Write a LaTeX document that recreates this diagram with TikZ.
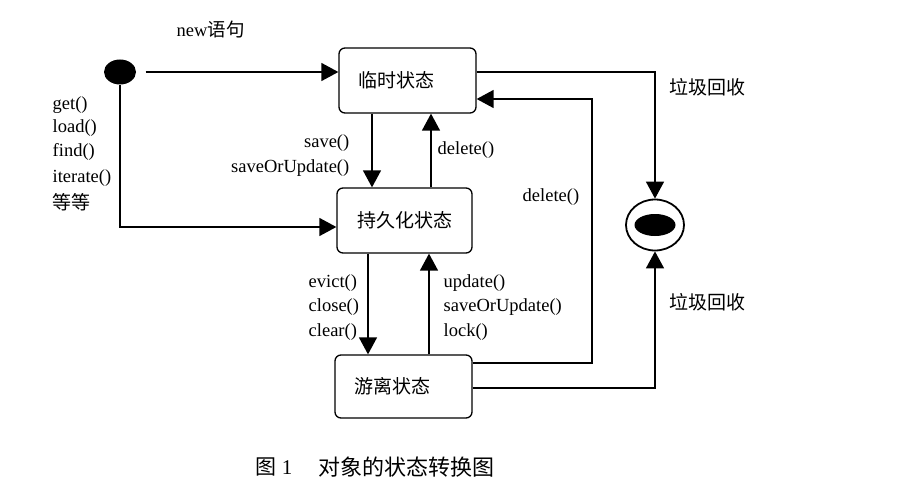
\documentclass[tikz,border=0pt]{standalone}
\usepackage{fontspec}
\setmainfont{Liberation Serif}
\newfontfamily\cjk{Noto Sans CJK SC}
\usetikzlibrary{arrows.meta,shapes.geometric}
\begin{document}
\begin{tikzpicture}[x=1pt,y=-1pt,
  line width=1.4pt,
  arr/.style={-{Triangle[length=17pt,width=18pt]}},
  state/.style={draw, rounded corners=6pt, line width=1.3pt, inner sep=0pt,
    font=\cjk\fontsize{19}{19}\selectfont},
  lbl/.style={font=\fontsize{18.5}{18.5}\selectfont, inner sep=0pt},
  clbl/.style={font=\cjk\fontsize{19}{19}\selectfont, inner sep=0pt}]
\useasboundingbox[fill=white] (0,0) rectangle (911,495);

% states
\node[state, minimum width=137pt, minimum height=65pt] (b1) at (407.5,80.5) {临时状态\hspace*{22pt}};
\node[state, minimum width=135pt, minimum height=65pt] (b2) at (404.5,220.5) {持久化状态};
\node[state, minimum width=137pt, minimum height=63pt] (b3) at (403.5,386.5) {游离状态\hspace*{22pt}};

% start and end
\node[fill, ellipse, minimum width=32pt, minimum height=25pt, inner sep=0pt] (s) at (120,72) {};
\node[draw, ellipse, line width=1.8pt, minimum width=58pt, minimum height=51pt, inner sep=0pt] (e) at (655,225) {};
\node[fill, ellipse, minimum width=41pt, minimum height=22pt, inner sep=0pt] (ei) at (e.center) {};

% helper x positions
\coordinate (x1) at (372,0);
\coordinate (x2) at (431,0);
\coordinate (x3) at (368,0);
\coordinate (x4) at (429,0);
\coordinate (d1) at (592,99);

% connectors
\draw[arr] ([xshift=9pt]s.east) -- (b1.west |- s.east);
\draw[arr] (s.south) |- ([yshift=-6.5pt]b2.west);
\draw[arr] (b1.south -| x1) -- (b2.north -| x1);
\draw[arr] (b2.north -| x2) -- (b1.south -| x2);
\draw[arr] (b2.south -| x3) -- (b3.north -| x3);
\draw[arr] (b3.north -| x4) -- (b2.south -| x4);
\draw[arr] ([yshift=8.5pt]b1.east) -| (e.north);
\draw[arr] ([yshift=23.5pt]b3.east) -| (d1) |- ([yshift=-18.5pt]b1.east);
\draw[arr] ([yshift=-1.5pt]b3.east) -| (e.south);

% labels
\node[lbl, anchor=west] (lnew) at (176,30) {new{\cjk 语句}};
\node[lbl, anchor=west] (lget) at (52,105) {get()};
\node[lbl, anchor=west] (lload) at (52,128) {load()};
\node[lbl, anchor=west] (lfind) at (52,152) {find()};
\node[lbl, anchor=west] (liter) at (52,178) {iterate()};
\node[clbl, anchor=west] (ldd) at (52,202) {等等};
\node[lbl, anchor=east] (lsave) at (350,143) {save()};
\node[lbl, anchor=east] (lsou) at (350,168) {saveOrUpdate()};
\node[lbl, anchor=west] (ldel) at (437,150) {delete()};
\node[lbl, anchor=west] (levict) at (308,283) {evict()};
\node[lbl, anchor=west] (lclose) at (308,307) {close()};
\node[lbl, anchor=west] (lclear) at (308,332) {clear()};
\node[lbl, anchor=west] (lupd) at (443,283) {update()};
\node[lbl, anchor=west] (lsou2) at (443,307) {saveOrUpdate()};
\node[lbl, anchor=west] (llock) at (443,332) {lock()};
\node[lbl, anchor=west] (ldel2) at (522,197) {delete()};
\node[clbl, anchor=west] (lgc1) at (669,87) {垃圾回收};
\node[clbl, anchor=west] (lgc2) at (669,302) {垃圾回收};
\node[inner sep=0pt, anchor=west, font=\fontsize{21}{21}\selectfont] (cap1) at (255,467) {{\cjk 图} 1};
\node[inner sep=0pt, anchor=west, font=\cjk\fontsize{22}{22}\selectfont] (cap2) at (318,467) {对象的状态转换图};
\end{tikzpicture}
\end{document}
